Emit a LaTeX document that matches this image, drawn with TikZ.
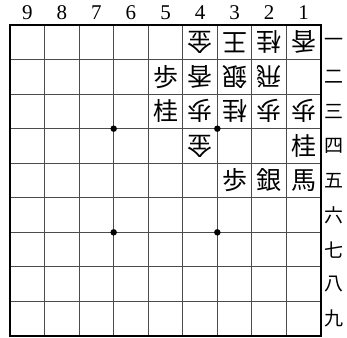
\documentclass[tikz,border=0pt]{standalone}
\usepackage{fontspec}
\newfontfamily\cjk{Noto Sans CJK JP}
\newfontfamily\digitfont{Liberation Serif}
\begin{document}
\begin{tikzpicture}[x=1pt,y=-1pt,
  piece/.style={font=\cjk\fontsize{25}{25}\selectfont, inner sep=0pt},
  gote/.style={piece, rotate=180},
  collabel/.style={font=\digitfont\fontsize{21}{21}\selectfont, inner sep=0pt},
  rowlabel/.style={font=\cjk\fontsize{19}{19}\selectfont, inner sep=0pt},
  gridline/.style={line width=1pt, black!70},
  border/.style={line width=2pt, black},
  hoshi/.style={circle, fill=black, inner sep=0pt, minimum size=6.5pt}]
\useasboundingbox (0,0) rectangle (347,337);
\begin{scope}[xshift=10pt, yshift=-25pt, x=34.556pt, y=-34.556pt]
  \foreach \i in {1,...,8} {
    \draw[gridline] (\i,0) -- (\i,9);
    \draw[gridline] (0,\i) -- (9,\i);
  }
  \draw[border] (0,0) rectangle (9,9);
  \node[hoshi] (h1) at (3,3) {};
  \node[hoshi] (h2) at (6,3) {};
  \node[hoshi] (h3) at (3,6) {};
  \node[hoshi] (h4) at (6,6) {};
  % column labels
  \foreach \k in {1,...,9} {
    \node[collabel] (c\k) at ({9.5-\k},-0.35) {\k};
  }
  % row labels
  \foreach \r/\t in {1/一,2/二,3/三,4/四,5/五,6/六,7/七,8/八,9/九} {
    \node[rowlabel] (r\r) at (9.38,{\r-0.5}) {\t};
  }
  % row 1
  \node[gote] (p41) at (5.5,0.5) {金};
  \node[gote] (p31) at (6.5,0.5) {王};
  \node[gote] (p21) at (7.5,0.5) {桂};
  \node[gote] (p11) at (8.5,0.5) {香};
  % row 2
  \node[piece] (p52) at (4.5,1.5) {歩};
  \node[gote] (p42) at (5.5,1.5) {香};
  \node[gote] (p32) at (6.5,1.5) {銀};
  \node[gote] (p22) at (7.5,1.5) {飛};
  % row 3
  \node[piece] (p53) at (4.5,2.5) {桂};
  \node[gote] (p43) at (5.5,2.5) {歩};
  \node[gote] (p33) at (6.5,2.5) {桂};
  \node[gote] (p23) at (7.5,2.5) {歩};
  \node[gote] (p13) at (8.5,2.5) {歩};
  % row 4
  \node[gote] (p44) at (5.5,3.5) {金};
  \node[piece] (p14) at (8.5,3.5) {桂};
  % row 5
  \node[piece] (p35) at (6.5,4.5) {歩};
  \node[piece] (p25) at (7.5,4.5) {銀};
  \node[piece] (p15) at (8.5,4.5) {馬};
\end{scope}
\end{tikzpicture}
\end{document}
